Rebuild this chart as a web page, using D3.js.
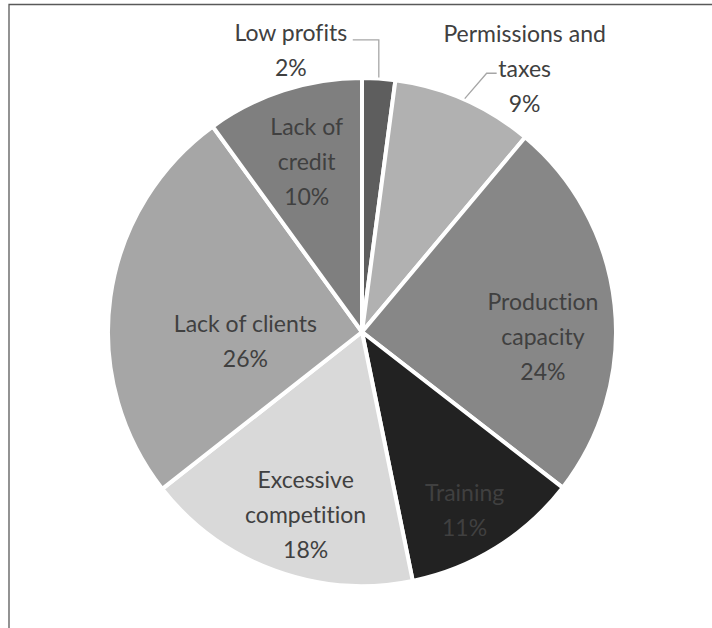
<!DOCTYPE html>
<html>
<head>
<meta charset="utf-8">
<script src="https://cdn.jsdelivr.net/npm/d3@7"></script>
<style>
  body { margin: 0; background: #fff; }
  svg { display: block; }
  text { font-variant-ligatures: none; font-feature-settings: "liga" 0; }
</style>
</head>
<body>
<svg id="chart"></svg>
<script>
// problems reported, share of companies (%), clockwise from 12 o'clock
const categories = ["Low profits", "Permissions and taxes", "Production capacity", "Training",
  "Excessive competition", "Lack of clients", "Lack of credit"];
const shares = [2.1, 9.0, 24.4, 11.3, 17.6, 25.6, 10.0];
const labelLines = [["Low profits"], ["Permissions and", "taxes"], ["Production", "capacity"], ["Training"],
  ["Excessive", "competition"], ["Lack of clients"], ["Lack of", "credit"]];
const colors = ["#5e5e5e", "#b1b1b1", "#878787", "#222222", "#d9d9d9", "#a6a6a6", "#7f7f7f"];

// label placement: radius from centre and angle shift (deg) from slice middle
const labelPlace = [
  { r: 290, shift: -18, outside: true },
  { r: 309, shift: 8, outside: true },
  { r: 181, shift: 7.7 },
  { r: 206, shift: 2 },
  { r: 191, shift: -3 },
  { r: 117, shift: -12.4 },
  { r: 179, shift: 0 }
];

const width = 712, height = 628;
const cx = 362, cy = 332, radius = 254;
const lineH = 35;

const svg = d3.select("#chart").attr("width", width).attr("height", height);

// chart area frame (top and left edges visible)
svg.append("path")
  .attr("d", `M9,628 V4.5 H712`)
  .attr("fill", "none")
  .attr("stroke", "#595959")
  .attr("stroke-width", 1.3);

const data = categories.map((c, i) => ({ name: c, value: shares[i], lines: labelLines[i], color: colors[i], place: labelPlace[i] }));

const pie = d3.pie().value(d => d.value).sort(null);
const arcs = pie(data);
const arc = d3.arc().innerRadius(0).outerRadius(radius);

const g = svg.append("g").attr("transform", `translate(${cx},${cy})`);

g.selectAll("path.slice")
  .data(arcs)
  .join("path")
  .attr("class", "slice")
  .attr("d", arc)
  .attr("fill", d => d.data.color)
  .attr("stroke", "#fff")
  .attr("stroke-width", 4)
  .attr("stroke-linejoin", "round");

const pct = d => Math.round(d.value) + "%";

function labelPoint(d) {
  const a = (d.startAngle + d.endAngle) / 2 + d.data.place.shift * Math.PI / 180;
  return [d.data.place.r * Math.sin(a), -d.data.place.r * Math.cos(a)];
}

// leader lines for outside labels
const leader = d3.line();
arcs.filter(d => d.data.place.outside).forEach(d => {
  const mid = (d.startAngle + d.endAngle) / 2;
  const edge = [(radius + 1) * Math.sin(mid), -(radius + 1) * Math.cos(mid)];
  const [lx, ly] = labelPoint(d);
  let pts;
  if (lx < edge[0]) {
    // label up-left: go straight up, then left
    pts = [edge, [edge[0], ly - 11], [lx + 62, ly - 11]];
  } else {
    pts = [edge, [lx - 38, ly + 4], [lx - 28, ly + 4]];
  }
  g.append("path")
    .attr("d", leader(pts))
    .attr("fill", "none")
    .attr("stroke", "#a6a6a6")
    .attr("stroke-width", 1.3);
});

g.selectAll("text.label")
  .data(arcs)
  .join("text")
  .attr("class", "label")
  .attr("text-anchor", "middle")
  .attr("font-family", "Lato, 'Open Sans', sans-serif")
  .attr("font-size", 23)
  .attr("fill", "#404040")
  .each(function (d) {
    const [x, y] = labelPoint(d);
    const lines = d.data.lines.concat([pct(d.data)]);
    const y0 = y - (lines.length - 1) * lineH / 2;
    d3.select(this).selectAll("tspan")
      .data(lines)
      .join("tspan")
      .attr("x", x)
      .attr("y", (t, i) => y0 + i * lineH)
      .attr("dy", "0.35em")
      .text(t => t);
  });
</script>
</body>
</html>
